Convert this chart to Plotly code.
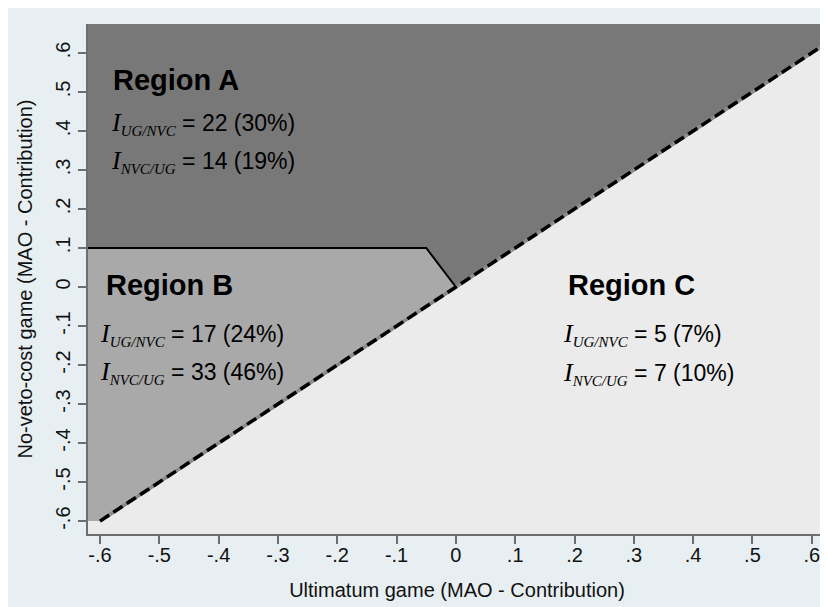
import plotly.graph_objects as go

# ---- data ----
x_ticks = [-0.6, -0.5, -0.4, -0.3, -0.2, -0.1, 0, 0.1, 0.2, 0.3, 0.4, 0.5, 0.6]
x_tick_labels = ["-.6", "-.5", "-.4", "-.3", "-.2", "-.1", "0", ".1", ".2", ".3", ".4", ".5", ".6"]
y_ticks = x_ticks
y_tick_labels = x_tick_labels

x_range = [-0.6202, 0.624]
y_range = [-0.633, 0.674]

diag_start = -0.6          # 45-degree line y = x starts here
kink_x = [-0.05, 0.0]       # boundary between region A and B
kink_y = [0.1, 0.0]
boundary_level = 0.1

region_names = ["Region A", "Region B", "Region C"]
i_ug_nvc = ["22 (30%)", "17 (24%)", "5 (7%)"]
i_nvc_ug = ["14 (19%)", "33 (46%)", "7 (10%)"]

xmin, xmax = x_range
ymin, ymax = y_range

fig = go.Figure()

# Region A (dark)
fig.add_trace(go.Scatter(
    x=[xmin, xmin, xmax, xmax, kink_x[1], kink_x[0], xmin],
    y=[boundary_level, ymax, ymax, xmax, kink_y[1], kink_y[0], boundary_level],
    fill="toself", fillcolor="#787878", mode="lines", line=dict(width=0),
    hoverinfo="skip", showlegend=False))
# Region B (mid)
fig.add_trace(go.Scatter(
    x=[xmin, xmin, kink_x[0], kink_x[1], diag_start, xmin],
    y=[diag_start, boundary_level, kink_y[0], kink_y[1], diag_start, diag_start],
    fill="toself", fillcolor="#a9a9a9", mode="lines", line=dict(width=0),
    hoverinfo="skip", showlegend=False))
# A/B boundary line
fig.add_trace(go.Scatter(
    x=[xmin] + kink_x, y=[boundary_level] + kink_y,
    mode="lines", line=dict(color="black", width=2),
    hoverinfo="skip", showlegend=False))
# 45-degree line: grey base + black dashes
fig.add_trace(go.Scatter(
    x=[diag_start, xmax], y=[diag_start, xmax],
    mode="lines", line=dict(color="#8a8a8a", width=3.5),
    hoverinfo="skip", showlegend=False))
fig.add_trace(go.Scatter(
    x=[diag_start, xmax], y=[diag_start, xmax],
    mode="lines", line=dict(color="black", width=3.5, dash="11px,5px"),
    hoverinfo="skip", showlegend=False))

SERIF = "font-family:Liberation Serif"

def i_line(sub, val):
    return (f'<span style="{SERIF};font-size:26px"><i>I</i></span>'
            f'<sub><span style="{SERIF};font-size:15px"><i>{sub}</i></span></sub>'
            f' = {val}')

title_pos = [(-0.582, 0.531), (-0.594, 0.005), (0.185, 0.005)]
line1_pos = [(-0.584, 0.418), (-0.603, -0.121), (0.178, -0.123)]
line2_pos = [(-0.584, 0.321), (-0.603, -0.218), (0.178, -0.221)]

for k in range(3):
    fig.add_annotation(x=title_pos[k][0], y=title_pos[k][1], text=f"<b>{region_names[k]}</b>",
                       showarrow=False, xanchor="left", yanchor="middle",
                       font=dict(family="Liberation Sans", size=29, color="black"))
    fig.add_annotation(x=line1_pos[k][0], y=line1_pos[k][1], text=i_line("UG/NVC", i_ug_nvc[k]),
                       showarrow=False, xanchor="left", yanchor="middle",
                       font=dict(family="Liberation Sans", size=23, color="black"))
    fig.add_annotation(x=line2_pos[k][0], y=line2_pos[k][1], text=i_line("NVC/UG", i_nvc_ug[k]),
                       showarrow=False, xanchor="left", yanchor="middle",
                       font=dict(family="Liberation Sans", size=23, color="black"))

axis_common = dict(showgrid=False, zeroline=False, showline=True, linecolor="#6e6e6e",
                   linewidth=1.5, ticks="outside", ticklen=8, tickwidth=1.5, tickcolor="#6e6e6e",
                   tickfont=dict(family="Liberation Sans", size=20, color="#111"),
                   mirror=False, automargin=False)

fig.update_layout(
    width=828, height=607,
    margin=dict(l=80, r=10, t=16, b=81, autoexpand=False),
    paper_bgcolor="#e8eff2", plot_bgcolor="#ebebeb",
    xaxis=dict(range=x_range, tickvals=x_ticks, ticktext=x_tick_labels, ticklabelstandoff=-6,
               title=dict(text="Ultimatum game (MAO - Contribution)",
                          font=dict(family="Liberation Sans", size=20, color="#111"), standoff=18),
               **axis_common),
    yaxis=dict(range=y_range, tickvals=y_ticks, ticktext=y_tick_labels, tickangle=-90,
               title=dict(text="No-veto-cost game (MAO - Contribution)",
                          font=dict(family="Liberation Sans", size=20, color="#111"), standoff=14),
               **axis_common),
)

fig.write_html("out.html")
